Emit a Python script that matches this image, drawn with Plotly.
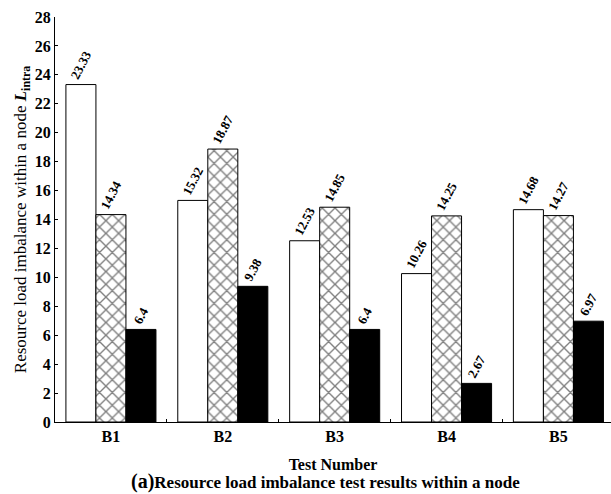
import plotly.graph_objects as go

categories = ["B1", "B2", "B3", "B4", "B5"]
series_a = [23.33, 15.32, 12.53, 10.26, 14.68]
series_b = [14.34, 18.87, 14.85, 14.25, 14.27]
series_c = [6.4, 9.38, 6.4, 2.67, 6.97]
labels_a = ["23.33", "15.32", "12.53", "10.26", "14.68"]
labels_b = ["14.34", "18.87", "14.85", "14.25", "14.27"]
labels_c = ["6.4", "9.38", "6.4", "2.67", "6.97"]
y_ticks = list(range(0, 29, 2))

FONT = "Liberation Serif"
txtfont = dict(family=FONT, size=13, color="black")

fig = go.Figure()
common = dict(textposition="outside", textangle=-62, constraintext="none",
              cliponaxis=False, textfont=txtfont, showlegend=False,
              texttemplate="<b>%{text}</b>")
fig.add_trace(go.Bar(x=categories, y=series_a, text=labels_a,
                     marker=dict(color="white", line=dict(color="black", width=1)), **common))
fig.add_trace(go.Bar(x=categories, y=series_b, text=labels_b,
                     marker=dict(color="white", line=dict(color="black", width=1),
                                 pattern=dict(shape="x", size=9, solidity=0.28,
                                              fgcolor="black", bgcolor="white", fillmode="overlay")),
                     **common))
fig.add_trace(go.Bar(x=categories, y=series_c, text=labels_c,
                     marker=dict(color="black", line=dict(color="black", width=1)), **common))

fig.update_layout(
    width=611, height=494,
    margin=dict(l=55, r=0, t=17, b=72),
    paper_bgcolor="white", plot_bgcolor="white",
    barmode="group", bargap=0.195, bargroupgap=0,
    font=dict(family=FONT, color="black"),
    xaxis=dict(range=[-0.5, 4.47], showline=True, linecolor="black", linewidth=1,
               ticks="inside", ticklen=3, tickcolor="black", tickson="boundaries",
               tickfont=dict(family=FONT, size=16, color="black"),
               tickvals=categories, ticktext=[f"<b>{c}</b>" for c in categories],
               title=dict(text="<b>Test Number</b>", font=dict(family=FONT, size=16),
                          standoff=14),
               showgrid=False, zeroline=False),
    yaxis=dict(range=[0, 28], tickvals=y_ticks, ticktext=[f"<b>{v}</b>" for v in y_ticks],
               showline=True, linecolor="black", linewidth=1,
               ticks="inside", ticklen=3, tickcolor="black",
               tickfont=dict(family=FONT, size=16, color="black"),
               title=dict(text="Resource load imbalance within a node <b><i>L</i><sub>intra</sub></b>",
                          font=dict(family=FONT, size=17), standoff=3),
               showgrid=False, zeroline=False),
)

fig.add_annotation(
    text="<b><span style='font-size:20px;font-family:Liberation Serif'>(a)</span>Resource load imbalance test results within a node</b>",
    xref="paper", yref="paper", x=0.487, y=-0.147, xanchor="center", yanchor="middle",
    showarrow=False, font=dict(family=FONT, size=17, color="black"))

fig.write_html("out.html")
